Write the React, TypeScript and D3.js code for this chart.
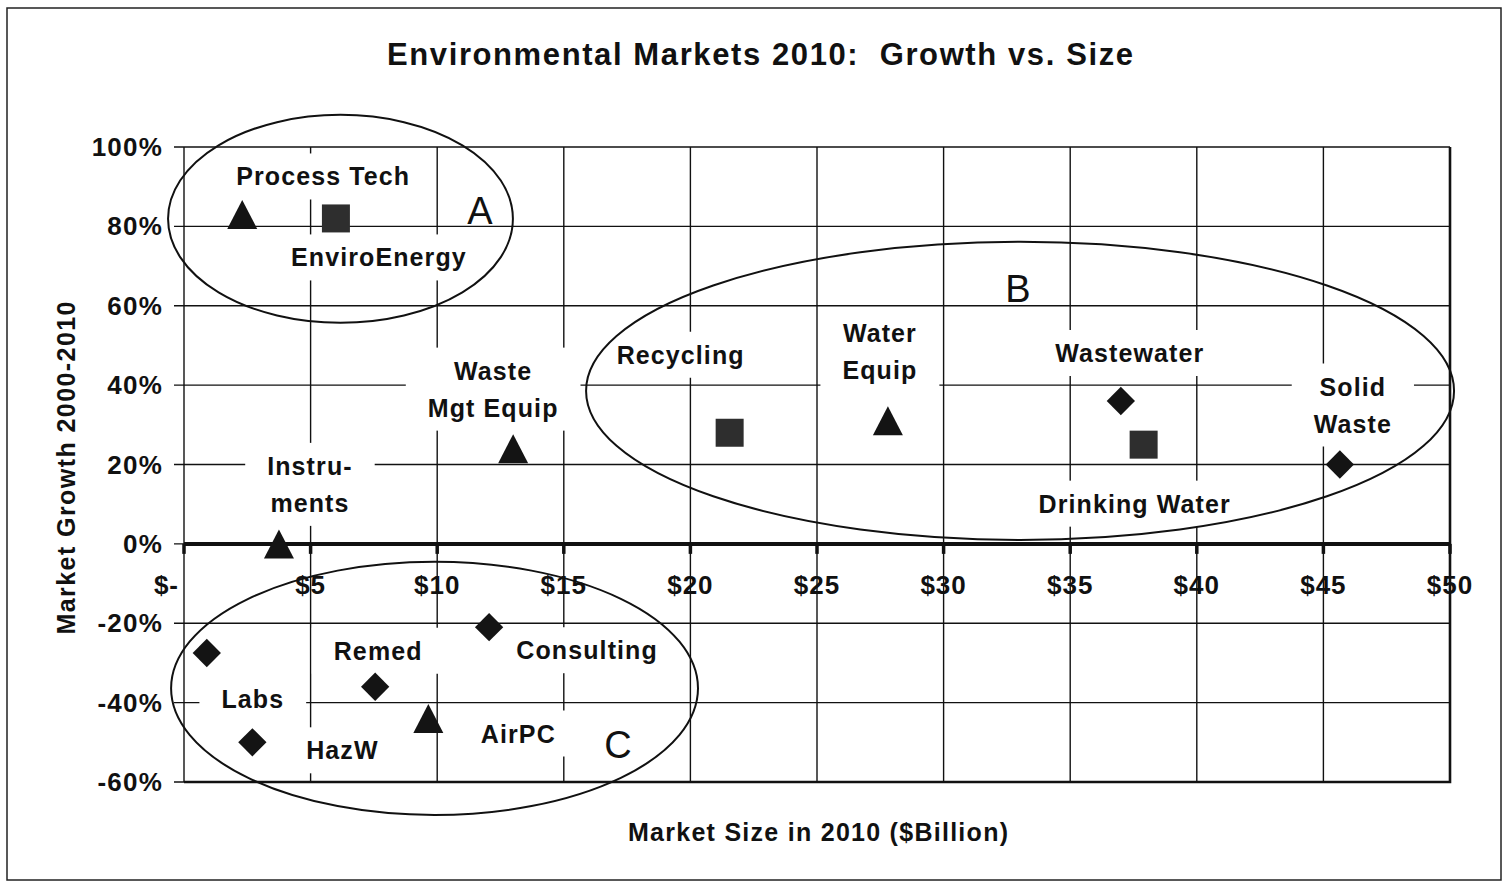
import React, { useEffect, useRef } from 'react';
import * as d3 from 'd3';

// market segments, size in $Billion and growth 2000-2010 (fraction)
const categories = [
  'Process Tech', 'EnviroEnergy', 'Waste Mgt Equip', 'Instruments', 'Recycling',
  'Water Equip', 'Wastewater', 'Drinking Water', 'Solid Waste', 'Labs',
  'HazW', 'Remed', 'AirPC', 'Consulting',
];
const marketSize = [2.3, 6.0, 13.0, 3.75, 21.55, 27.8, 37.0, 37.9, 45.65, 0.9, 2.7, 7.55, 9.65, 12.05];
const growth = [0.83, 0.82, 0.24, 0.0, 0.28, 0.31, 0.36, 0.25, 0.2, -0.275, -0.5, -0.36, -0.44, -0.21];
const markerShape = [
  'triangle', 'square', 'triangle', 'triangle', 'square',
  'triangle', 'diamond', 'square', 'diamond', 'diamond',
  'diamond', 'diamond', 'triangle', 'diamond',
];
const labelLines = [
  ['Process Tech'], ['EnviroEnergy'], ['Waste', 'Mgt Equip'], ['Instru-', 'ments'], ['Recycling'],
  ['Water', 'Equip'], ['Wastewater'], ['Drinking Water'], ['Solid', 'Waste'], ['Labs'],
  ['HazW'], ['Remed'], ['AirPC'], ['Consulting'],
];

const xTicks = [0, 5, 10, 15, 20, 25, 30, 35, 40, 45, 50];
const xTickLabels = ['$-', '$5', '$10', '$15', '$20', '$25', '$30', '$35', '$40', '$45', '$50'];
const yTicks = [-0.6, -0.4, -0.2, 0, 0.2, 0.4, 0.6, 0.8, 1.0];
const yTickLabels = ['-60%', '-40%', '-20%', '0%', '20%', '40%', '60%', '80%', '100%'];

// cluster ellipses (in data units)
const groupNames = ['A', 'B', 'C'];
const groupXMin = [-0.63, 15.88, -0.51];
const groupXMax = [12.99, 50.16, 20.3];
const groupYMin = [0.557, 0.01, -0.683];
const groupYMax = [1.081, 0.761, -0.045];
const groupLetterX = [11.69, 32.94, 17.14];
const groupLetterY = [0.806, 0.61, -0.539];

// label placement relative to each marker (px)
const labelDx = [81, 43, -20, 31, -49, -8, 9, -9, 13, 46, 90, 3, 90, 98];
const labelDy = [-29, 48, -69, -69, -69, -79, -39, 68, -69, 55, 17, -27, 24, 32];

const FONT = '"Liberation Sans", Arial, Helvetica, sans-serif';
const W = 1507;
const H = 886;

export default function App() {
  const ref = useRef<SVGSVGElement>(null);

  useEffect(() => {
    const svg = d3.select(ref.current);
    svg.selectAll('*').remove();

    const x = d3.scaleLinear().domain([0, 50]).range([184, 1450]);
    const y = d3.scaleLinear().domain([-0.6, 1.0]).range([782, 147]);
    const [x0, x1] = x.range();
    const [yB, yT] = y.range();

    svg.append('rect').attr('width', W).attr('height', H).attr('fill', '#fff');
    // outer chart frame
    svg.append('rect')
      .attr('x', 7).attr('y', 8).attr('width', 1494).attr('height', 872)
      .attr('fill', 'none').attr('stroke', '#222').attr('stroke-width', 1.5);

    svg.append('text')
      .attr('x', 760).attr('y', 65)
      .attr('text-anchor', 'middle')
      .attr('font-family', FONT).attr('font-size', 31).attr('font-weight', 'bold')
      .attr('textLength', 746).attr('lengthAdjust', 'spacing')
      .attr('fill', '#111')
      .style('white-space', 'pre')
      .text('Environmental Markets 2010:  Growth vs. Size');

    const grid = svg.append('g').attr('stroke', '#111').attr('stroke-width', 1.4);
    grid.selectAll('line.h').data(yTicks).enter().append('line')
      .attr('x1', x0 - 10).attr('x2', x1)
      .attr('y1', (d) => y(d)).attr('y2', (d) => y(d));
    grid.selectAll('line.v').data(xTicks).enter().append('line')
      .attr('x1', (d) => x(d)).attr('x2', (d) => x(d))
      .attr('y1', yT).attr('y2', yB);

    // heavier right / bottom plot edges
    svg.append('path')
      .attr('d', `M${x1},${yT}V${yB}H${x0}`)
      .attr('fill', 'none').attr('stroke', '#111').attr('stroke-width', 2.6);

    // zero line (x axis) with tick marks
    svg.append('line')
      .attr('x1', x0).attr('x2', x1).attr('y1', y(0)).attr('y2', y(0))
      .attr('stroke', '#111').attr('stroke-width', 4);
    svg.append('g').selectAll('line').data(xTicks).enter().append('line')
      .attr('x1', (d) => x(d)).attr('x2', (d) => x(d))
      .attr('y1', y(0)).attr('y2', y(0) + 10)
      .attr('stroke', '#111').attr('stroke-width', 3.5);

    // point labels with white boxes
    const labelG = svg.append('g');
    categories.forEach((c, i) => {
      const px = x(marketSize[i]) + labelDx[i];
      const py = y(growth[i]) + labelDy[i];
      const g = labelG.append('g');
      const t = g.append('text')
        .attr('text-anchor', 'middle')
        .attr('font-family', FONT).attr('font-size', 25).attr('font-weight', 'bold')
        .attr('letter-spacing', 1.1)
        .attr('fill', '#111');
      labelLines[i].forEach((line, j) => {
        t.append('tspan').attr('x', px).attr('y', py + j * 37).text(line);
      });
      const bb = (t.node() as SVGTextElement).getBBox();
      g.insert('rect', 'text')
        .attr('x', bb.x - 22).attr('y', bb.y - 9)
        .attr('width', bb.width + 44).attr('height', bb.height + 18)
        .attr('fill', '#fff');
    });

    // markers
    const square = d3.symbol().type(d3.symbolSquare).size(28 * 28)();
    const diamond = d3.symbol().type(d3.symbolSquare).size(20 * 20)();
    const triangle = 'M0,-14.5L15,14.5L-15,14.5Z';
    svg.append('g').selectAll('path').data(categories).enter().append('path')
      .attr('d', (_, i) => (markerShape[i] === 'square' ? square : markerShape[i] === 'diamond' ? diamond : triangle))
      .attr('transform', (_, i) =>
        `translate(${x(marketSize[i])},${y(growth[i])})${markerShape[i] === 'diamond' ? ' rotate(45)' : ''}`)
      .attr('fill', (_, i) => (markerShape[i] === 'square' ? '#2e2e2e' : '#141414'));

    // cluster ellipses and letters
    groupNames.forEach((n, i) => {
      const ex0 = x(groupXMin[i]);
      const ex1 = x(groupXMax[i]);
      const ey0 = y(groupYMax[i]);
      const ey1 = y(groupYMin[i]);
      svg.append('ellipse')
        .attr('cx', (ex0 + ex1) / 2).attr('cy', (ey0 + ey1) / 2)
        .attr('rx', (ex1 - ex0) / 2).attr('ry', (ey1 - ey0) / 2)
        .attr('fill', 'none').attr('stroke', '#111').attr('stroke-width', 2);
      svg.append('text')
        .attr('x', x(groupLetterX[i])).attr('y', y(groupLetterY[i]))
        .attr('text-anchor', 'middle')
        .attr('font-family', FONT).attr('font-size', 38)
        .attr('fill', '#111')
        .text(n);
    });

    // tick labels
    svg.append('g').selectAll('text').data(yTicks).enter().append('text')
      .attr('x', 163).attr('y', (d) => y(d) + 9)
      .attr('text-anchor', 'end')
      .attr('font-family', FONT).attr('font-size', 26).attr('font-weight', 'bold')
      .attr('letter-spacing', 1.2)
      .attr('fill', '#111')
      .text((_, i) => yTickLabels[i]);
    svg.append('g').selectAll('text').data(xTicks).enter().append('text')
      .attr('x', (d) => (d === 0 ? x(d) - 5 : x(d)))
      .attr('y', 594)
      .attr('text-anchor', (d) => (d === 0 ? 'end' : 'middle'))
      .attr('font-family', FONT).attr('font-size', 26).attr('font-weight', 'bold')
      .attr('letter-spacing', 1)
      .attr('fill', '#111')
      .text((_, i) => xTickLabels[i]);

    // axis titles
    svg.append('text')
      .attr('x', 818).attr('y', 841)
      .attr('text-anchor', 'middle')
      .attr('font-family', FONT).attr('font-size', 25).attr('font-weight', 'bold')
      .attr('textLength', 380).attr('lengthAdjust', 'spacing')
      .attr('fill', '#111')
      .text('Market Size in 2010 ($Billion)');
    svg.append('text')
      .attr('transform', 'translate(75,468) rotate(-90)')
      .attr('text-anchor', 'middle')
      .attr('font-family', FONT).attr('font-size', 25).attr('font-weight', 'bold')
      .attr('textLength', 333).attr('lengthAdjust', 'spacing')
      .attr('fill', '#111')
      .text('Market Growth 2000-2010');
  }, []);

  return (
    <svg
      ref={ref}
      width={W}
      height={H}
      style={{ position: 'absolute', left: 0, top: 0, display: 'block' }}
    />
  );
}
